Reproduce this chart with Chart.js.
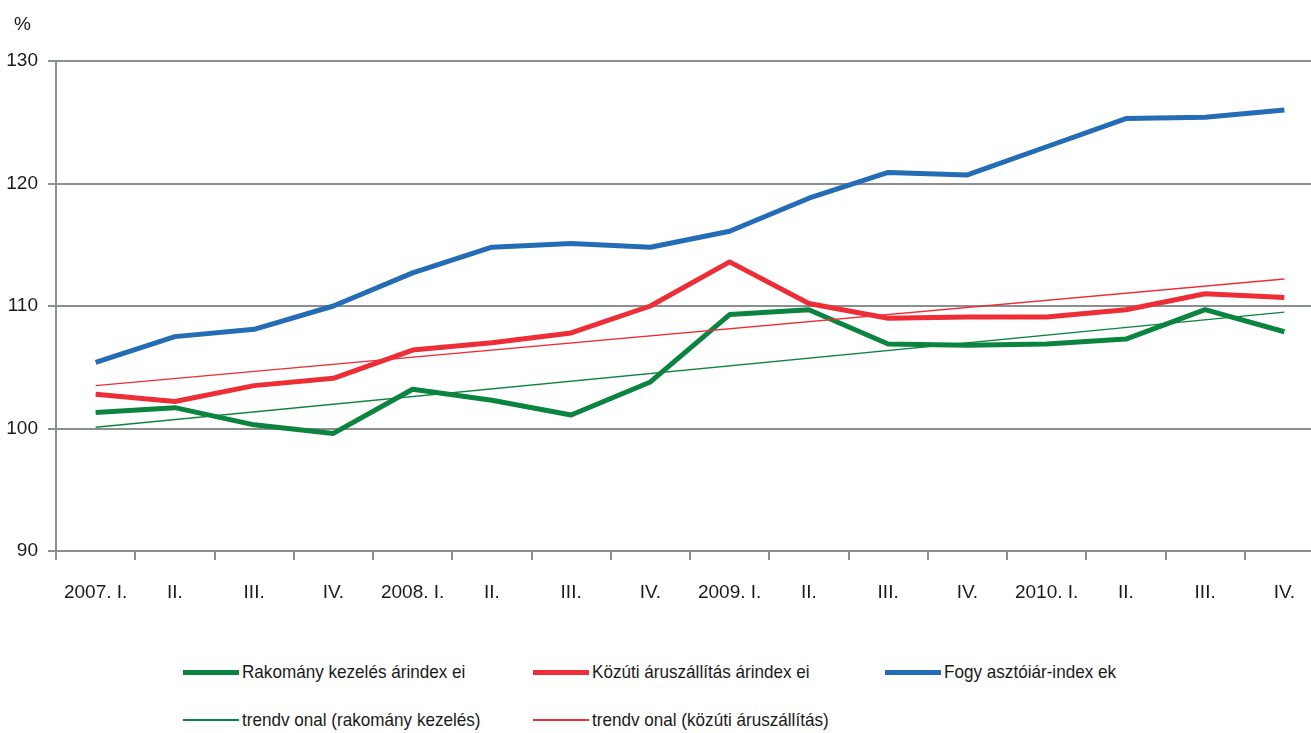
<!DOCTYPE html>
<html>
<head>
<meta charset="utf-8">
<script src="https://cdn.jsdelivr.net/npm/chart.js@4.4.1/dist/chart.umd.min.js"></script>
<style>
  html, body { margin: 0; padding: 0; background: #fff; overflow: hidden; width: 1311px; height: 733px; }
  #wrap { position: relative; width: 1311px; height: 733px; }
  #c { position: absolute; left: 0; top: 0; }
  .leg { position: absolute; display: flex; align-items: center; font-family: 'Liberation Sans Narrow', 'Arial Narrow', 'Liberation Sans', sans-serif; font-size: 19px; color: #1a1a1a; white-space: nowrap; }
  .leg span.sw { display: inline-block; width: 56px; margin-right: 3px; }
  .leg span.tx { display: inline-block; transform: scaleX(0.9); transform-origin: left center; }
</style>
</head>
<body>
<div id="wrap">
  <canvas id="c" width="1324" height="620"></canvas>
  <div id="legend"></div>
</div>
<script>
const categories = ["2007. I.", "II.", "III.", "IV.", "2008. I.", "II.", "III.", "IV.",
                    "2009. I.", "II.", "III.", "IV.", "2010. I.", "II.", "III.", "IV."];

const rakomany = [101.3, 101.7, 100.3, 99.6, 103.2, 102.3, 101.1, 103.8,
                  109.3, 109.7, 106.9, 106.8, 106.9, 107.3, 109.7, 107.9];
const kozuti   = [102.8, 102.2, 103.5, 104.1, 106.4, 107.0, 107.8, 110.0,
                  113.6, 110.2, 109.0, 109.1, 109.1, 109.7, 111.0, 110.7];
const fogyar   = [105.4, 107.5, 108.1, 110.0, 112.7, 114.8, 115.1, 114.8,
                  116.1, 118.8, 120.9, 120.7, 123.0, 125.3, 125.4, 126.0];

// trend lines: only start and end values, straight line between them
const trendRakomany = [100.1, null, null, null, null, null, null, null,
                       null, null, null, null, null, null, null, 109.5];
const trendKozuti   = [103.5, null, null, null, null, null, null, null,
                       null, null, null, null, null, null, null, 112.2];

const yTicks = [90, 100, 110, 120, 130];

const labels = ["Rakomány kezelés árindex ei", "Közúti áruszállítás árindex ei", "Fogy asztóiár-index ek",
                "trendv onal (rakomány kezelés)", "trendv onal (közúti áruszállítás)"];
const colors = ["#0b843f", "#ee2e36", "#246cb5", "#0b843f", "#ee2e36"];

const FONT = "'Liberation Sans Narrow', 'Arial Narrow', 'Liberation Sans', sans-serif";
const GRID = "#8a8f8f";

function mainLine(i, data) {
  return { label: labels[i], data: data, borderColor: colors[i], backgroundColor: colors[i],
           borderWidth: 5, pointRadius: 0, tension: 0, borderJoinStyle: "round", order: 1 };
}
function trendLine(i, data) {
  return { label: labels[i], data: data, borderColor: colors[i], backgroundColor: colors[i],
           borderWidth: 1.5, pointRadius: 0, tension: 0, spanGaps: true, order: 0 };
}

const percentLabel = {
  id: "percentLabel",
  afterDraw(chart) {
    const ctx = chart.ctx;
    ctx.save();
    ctx.font = "19px " + FONT;
    ctx.fillStyle = "#1a1a1a";
    ctx.textBaseline = "middle";
    ctx.fillText("%", 14, 25);
    ctx.restore();
  }
};

const chart = new Chart(document.getElementById("c").getContext("2d"), {
  type: "line",
  data: {
    labels: categories,
    datasets: [
      mainLine(0, rakomany),
      mainLine(1, kozuti),
      mainLine(2, fogyar),
      trendLine(3, trendRakomany),
      trendLine(4, trendKozuti)
    ]
  },
  options: {
    responsive: false,
    devicePixelRatio: 1,
    animation: false,
    layout: { padding: { top: 61, left: 0, right: 0, bottom: 0 } },
    plugins: { legend: { display: false }, tooltip: { enabled: false } },
    scales: {
      x: {
        offset: true,
        grid: { display: true, drawOnChartArea: false, offset: true, color: GRID, lineWidth: 2, tickLength: 9 },
        border: { color: GRID, width: 2 },
        ticks: { color: "#1a1a1a", font: { family: FONT, size: 19 }, padding: 21, maxRotation: 0, autoSkip: false },
        afterFit: s => { s.height = 69; }
      },
      y: {
        min: 90, max: 130,
        afterBuildTicks: s => { s.ticks = yTicks.map(v => ({ value: v })); },
        grid: { color: GRID, lineWidth: 2, tickLength: 8 },
        border: { color: GRID, width: 2 },
        ticks: { color: "#1a1a1a", font: { family: FONT, size: 19 }, padding: 10 },
        afterFit: s => { s.width = 56; }
      }
    }
  },
  plugins: [percentLabel]
});

// legend in two rows, three columns
const legPos = [[183, 672], [533, 672], [885, 672], [183, 720], [533, 720]];
const legend = document.getElementById("legend");
chart.data.datasets.forEach((ds, i) => {
  const item = document.createElement("div");
  item.className = "leg";
  item.style.left = legPos[i][0] + "px";
  item.style.top = (legPos[i][1] - 12) + "px";
  item.style.height = "24px";
  const sw = document.createElement("span");
  sw.className = "sw";
  sw.style.height = (ds.borderWidth >= 3 ? 5 : 2) + "px";
  sw.style.background = ds.borderColor;
  const tx = document.createElement("span");
  tx.className = "tx";
  tx.textContent = ds.label;
  item.appendChild(sw);
  item.appendChild(tx);
  legend.appendChild(item);
});
</script>
</body>
</html>
